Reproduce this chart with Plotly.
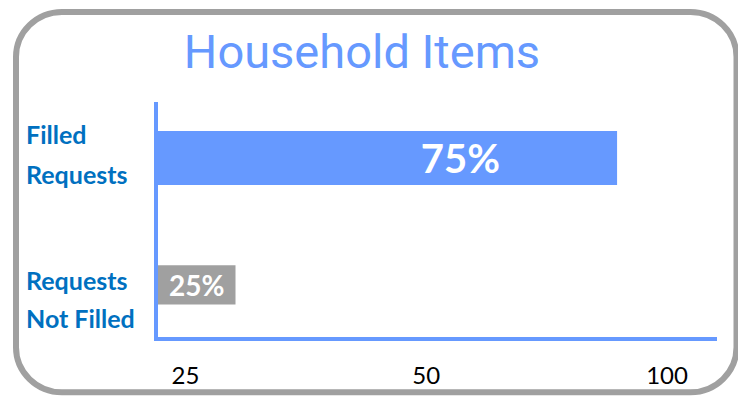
import math
import plotly.graph_objects as go

# ---- data ----
CATEGORIES = ["Filled Requests", "Requests Not Filled"]
LABEL_LINES = [["Filled", "Requests"], ["Requests", "Not Filled"]]
VALUES = [75, 25]
TICK_VALUES = [25, 50, 100]
TICK_LABELS = ["25", "50", "100"]
TITLE = "Household Items"

# ---- style ----
BLUE = "#6699ff"
GRAY = "#a0a0a0"
LABEL_BLUE = "#0070c0"
BAR_COLORS = [BLUE, GRAY]
BAR_WIDTHS = [0.425, 0.31]
BAR_TEXT_SIZES = [40, 28]
NBSP = "\u00a0"
# leading padding moves the big label toward the bar's right half
BAR_TEXT_TEMPLATES = [NBSP * 15 + "%{x}%", "%{x}%"]
LABEL_SHIFTS = [[24, -16], [5, -33]]

OFF = 8  # page body margin
W, H = 746 - OFF, 401 - OFF
# plot area in screen pixels
SX0, SX1, SY0, SY1 = 158, 717, 102, 342
ML, MR, MT, MB = SX0 - OFF, W - (SX1 - OFF), SY0 - OFF, H - (SY1 - OFF)
PW, PH = SX1 - SX0, SY1 - SY0


def px2paper(x, y):
    return (x - SX0) / PW, (SY1 - y) / PH


fig = go.Figure()
fig.add_trace(go.Bar(
    y=CATEGORIES,
    x=VALUES,
    orientation="h",
    width=BAR_WIDTHS,
    marker=dict(color=BAR_COLORS, line=dict(width=0)),
    texttemplate=BAR_TEXT_TEMPLATES,
    textposition="inside",
    insidetextanchor="middle",
    constraintext="none",
    textfont=dict(family="Lato", size=BAR_TEXT_SIZES, color="white", weight="bold"),
    hoverinfo="skip",
))

# category labels (left aligned, two lines each)
for cat, lines, shifts in zip(CATEGORIES, LABEL_LINES, LABEL_SHIFTS):
    for line, sh in zip(lines, shifts):
        fig.add_annotation(
            text=line, xref="paper", x=px2paper(24, 0)[0], xanchor="left",
            yref="y", y=cat, yanchor="middle", yshift=sh, showarrow=False,
            font=dict(family="Lato", size=25, color=LABEL_BLUE, weight="bold"),
        )

# rounded border frame (screen pixel coords)
x0, y0, x1, y1, r = 16, 10, 736.5, 398.5, 46
k = 0.552 * r


def P(x, y):
    a, b = px2paper(x, y)
    return f"{a:.5f},{b:.5f}"


path = (
    f"M {P(x0 + r, y0)} L {P(x1 - r, y0)} "
    f"C {P(x1 - r + k, y0)} {P(x1, y0 + r - k)} {P(x1, y0 + r)} "
    f"L {P(x1, y1 - r)} "
    f"C {P(x1, y1 - r + k)} {P(x1 - r + k, y1)} {P(x1 - r, y1)} "
    f"L {P(x0 + r, y1)} "
    f"C {P(x0 + r - k, y1)} {P(x0, y1 - r + k)} {P(x0, y1 - r)} "
    f"L {P(x0, y0 + r)} "
    f"C {P(x0, y0 + r - k)} {P(x0 + r - k, y0)} {P(x0 + r, y0)} Z"
)
fig.add_shape(type="path", path=path, xref="paper", yref="paper",
              line=dict(color=GRAY, width=6), layer="below")

fig.update_layout(
    width=W, height=H,
    margin=dict(l=ML, r=MR, t=MT, b=MB),
    paper_bgcolor="white", plot_bgcolor="white",
    showlegend=False,
    title=dict(text=TITLE, x=(362 - OFF) / W, xanchor="center", xref="container",
               y=1 - (52 - OFF) / H, yanchor="middle", yref="container",
               font=dict(family="Roboto", size=47, color=BLUE)),
    xaxis=dict(type="log", range=[math.log10(20), 2],
               tickvals=TICK_VALUES, ticktext=TICK_LABELS,
               showgrid=False, zeroline=False, showline=True,
               linecolor=BLUE, linewidth=4, ticks="",
               ticklabelshift=-50, ticklabelstandoff=14,
               tickfont=dict(family="Lato", size=24, color="black")),
    yaxis=dict(type="category", categoryarray=CATEGORIES[::-1],
               categoryorder="array", range=[-0.41, 1.44],
               showgrid=False, zeroline=False, showline=True,
               linecolor=BLUE, linewidth=4, showticklabels=False, ticks=""),
)

fig.write_html("out.html")
